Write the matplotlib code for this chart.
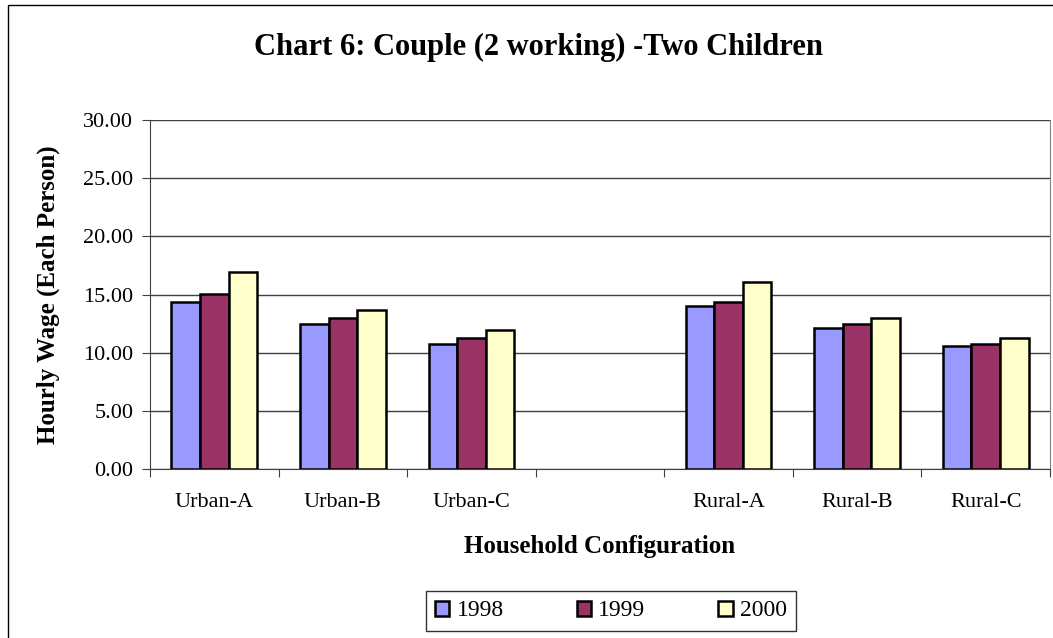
import matplotlib.pyplot as plt
import numpy as np
from matplotlib.patches import Rectangle

categories = ["Urban-A", "Urban-B", "Urban-C", "", "Rural-A", "Rural-B", "Rural-C"]
years = ["1998", "1999", "2000"]
v1998 = [14.38, 12.49, 10.75, np.nan, 14.02, 12.15, 10.58]
v1999 = [15.07, 12.98, 11.26, np.nan, 14.36, 12.49, 10.75]
v2000 = [16.97, 13.70, 11.98, np.nan, 16.08, 12.98, 11.26]
colors = ["#9999ff", "#993366", "#ffffcc"]

plt.rcParams['font.family'] = ['Liberation Serif', 'DejaVu Serif']

fig = plt.figure(figsize=(10.53, 6.38), dpi=100)
# outer chart border (cut off at right and bottom like the source)
fig.add_artist(Rectangle((8/1053, -0.05), 1.2, 1 - 5/638 + 0.05, transform=fig.transFigure,
                         fill=False, edgecolor="black", linewidth=1.0))

ax = fig.add_axes([150/1053, 1 - 469/638, 900/1053, 349/638])

x = np.arange(len(categories))
w = 1 / 4.5
for i, (vals, c, lab) in enumerate(zip([v1998, v1999, v2000], colors, years)):
    ax.bar(x + (i - 1) * w, vals, w, color=c, edgecolor="black", linewidth=1.8, label=lab, zorder=3)

ax.set_xlim(-0.5, len(categories) - 0.5)
ax.set_ylim(0, 30)
ax.set_yticks(np.arange(0, 31, 5))
ax.set_yticklabels(["%.2f" % v for v in np.arange(0, 31, 5)], fontsize=16)
ax.yaxis.grid(True, color="#404040", linewidth=1.0, zorder=0)
ax.set_xticks(np.arange(-0.5, len(categories), 1))
ax.set_xticklabels([])
ax.set_xticks(x, minor=True)
ax.set_xticklabels(categories, minor=True, fontsize=16)
ax.tick_params(axis="x", which="minor", length=0, pad=17)
ax.tick_params(axis="x", which="major", length=6, direction="out", color="#404040")
ax.tick_params(axis="y", length=6, direction="out", color="#404040", pad=6)

ax.spines["top"].set_visible(False)
ax.spines["right"].set_color("#808080")
ax.spines["left"].set_color("#404040")
ax.spines["bottom"].set_color("#404040")

ax.set_ylabel("Hourly Wage (Each Person)", fontsize=18, fontweight="bold", labelpad=17)
ax.set_xlabel("Household Configuration", fontsize=18, fontweight="bold", labelpad=17)
fig.text(538/1053, 1 - 47/638, "Chart 6: Couple (2 working) -Two Children", ha="center", va="center",
         fontsize=22, fontweight="bold")

leg = fig.legend(loc="center", bbox_to_anchor=(611/1053, 1 - 611/638), ncol=3, fontsize=17,
                 frameon=True, fancybox=False, edgecolor="black", handlelength=0.6, handleheight=0.6,
                 columnspacing=3.1, handletextpad=0.3, borderpad=0.4, borderaxespad=0)
leg.get_frame().set_linewidth(1.0)

fig.savefig("out.png", dpi=100)
